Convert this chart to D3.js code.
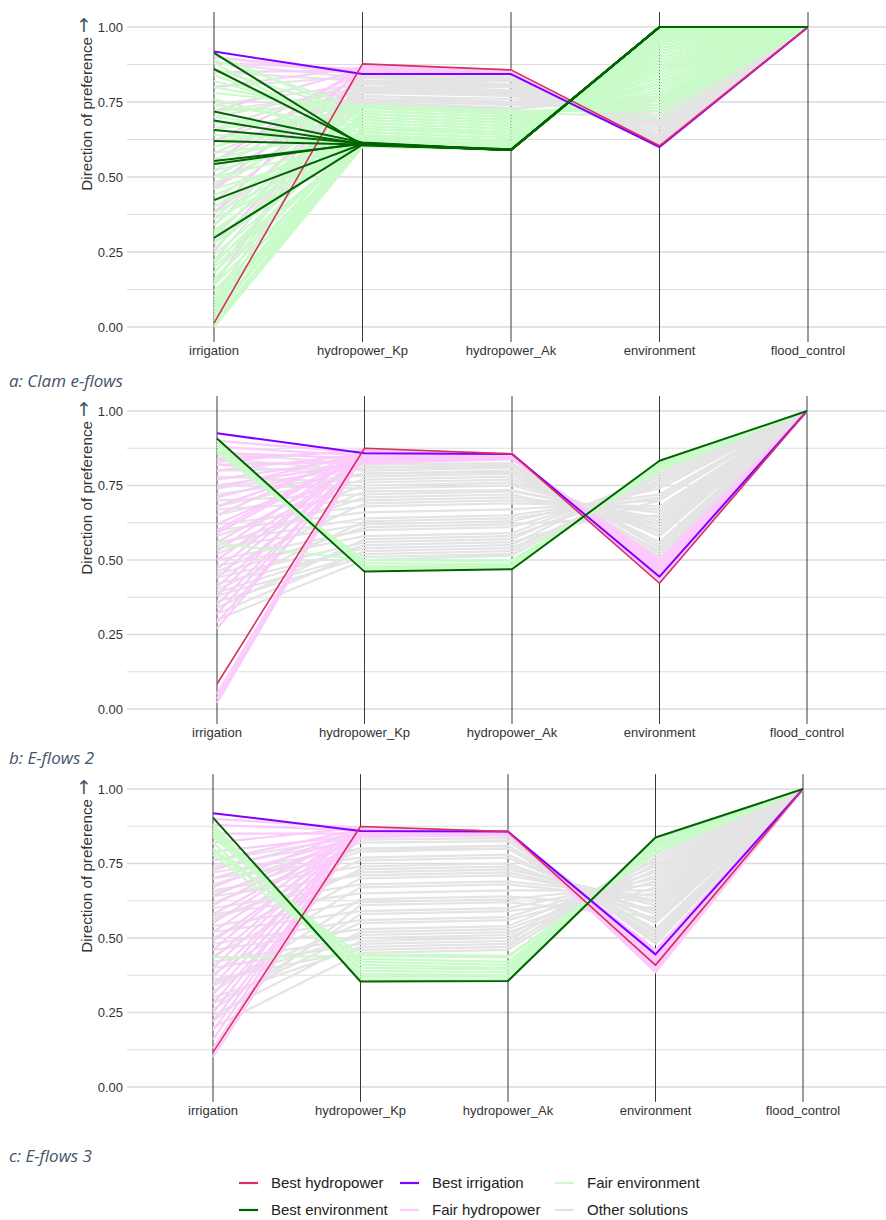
<!DOCTYPE html>
<html>
<head>
<meta charset="utf-8">
<script src="https://cdn.jsdelivr.net/npm/d3@7"></script>
<style>
  body { margin: 0; background: #fff; }
  svg { display: block; }
</style>
</head>
<body>
<div id="chart"></div>
<script>
// Parallel coordinates of the Pareto solutions, three e-flow scenarios.
// Each row: irrigation, hydropower_Kp, hydropower_Ak, environment, flood_control

var dims = ["irrigation", "hydropower_Kp", "hydropower_Ak", "environment", "flood_control"];
var yTicks = [0, 0.25, 0.5, 0.75, 1];
var yMinor = [0.125, 0.375, 0.625, 0.875];
var captions = ["a: Clam e-flows", "b: E-flows 2", "c: E-flows 3"];

// draw order: grey first, best lines last
var groupNames = ["Other solutions", "Fair hydropower", "Fair environment", "Best irrigation", "Best hydropower", "Best environment"];
var groupColors = ["#e4e4e4", "#fccafc", "#c9fbc9", "#7f00ff", "#d6305f", "#006400"];
var legendOrder = ["Best hydropower", "Best environment", "Best irrigation", "Fair hydropower", "Fair environment", "Other solutions"];

// ---- a: Clam e-flows
var clamOther = [
  [0.88,0.83,0.83,0.62,1],[0.85,0.82,0.82,0.63,1],[0.80,0.835,0.83,0.61,1],[0.74,0.81,0.80,0.64,1],
  [0.70,0.80,0.79,0.66,1],[0.66,0.82,0.81,0.62,1],[0.62,0.79,0.78,0.67,1],[0.58,0.78,0.77,0.68,1],
  [0.55,0.80,0.80,0.65,1],[0.50,0.77,0.76,0.70,1],[0.46,0.76,0.75,0.72,1],[0.42,0.78,0.78,0.69,1],
  [0.38,0.755,0.74,0.74,1],[0.34,0.81,0.80,0.66,1],[0.30,0.77,0.75,0.71,1],[0.26,0.75,0.73,0.76,1],
  [0.22,0.80,0.79,0.67,1],[0.18,0.76,0.74,0.73,1],[0.14,0.83,0.82,0.615,1],[0.10,0.79,0.77,0.70,1],
  [0.06,0.82,0.81,0.64,1],[0.90,0.84,0.835,0.605,1],[0.47,0.83,0.825,0.625,1],[0.28,0.745,0.725,0.77,1],
  [0.60,0.76,0.745,0.75,1],[0.72,0.785,0.775,0.685,1],[0.52,0.815,0.805,0.635,1],[0.36,0.795,0.785,0.675,1]
];
var clamFairHydro = [
  [0.90,0.85,0.845,0.605,1],[0.88,0.86,0.85,0.60,1],[0.85,0.855,0.848,0.603,1],[0.80,0.865,0.85,0.60,1],
  [0.72,0.86,0.852,0.602,1],[0.62,0.85,0.846,0.606,1],[0.55,0.87,0.854,0.60,1],[0.46,0.858,0.85,0.604,1],
  [0.38,0.868,0.853,0.60,1],[0.14,0.872,0.855,0.60,1],[0.25,0.85,0.847,0.606,1]
];
var clamFairEnv = [
  [0.02,0.61,0.60,0.98,1],[0.05,0.62,0.60,0.96,1],[0.08,0.63,0.61,0.94,1],[0.12,0.61,0.595,0.99,1],
  [0.16,0.64,0.62,0.92,1],[0.20,0.62,0.60,0.97,1],[0.24,0.66,0.64,0.89,1],[0.28,0.63,0.61,0.95,1],
  [0.32,0.68,0.66,0.86,1],[0.36,0.61,0.60,0.985,1],[0.40,0.70,0.68,0.82,1],[0.44,0.64,0.62,0.93,1],
  [0.48,0.72,0.70,0.78,1],[0.52,0.65,0.63,0.91,1],[0.56,0.67,0.65,0.87,1],[0.60,0.73,0.71,0.75,1],
  [0.64,0.62,0.60,0.965,1],[0.68,0.69,0.67,0.84,1],[0.72,0.74,0.72,0.72,1],[0.76,0.63,0.61,0.95,1],
  [0.80,0.71,0.69,0.80,1],[0.84,0.66,0.64,0.90,1],[0.88,0.62,0.60,0.97,1],[0.91,0.70,0.68,0.83,1],
  [0.00,0.60,0.59,0.995,1],[0.10,0.66,0.65,0.88,1],[0.34,0.74,0.715,0.70,1],[0.46,0.61,0.60,0.985,1],
  [0.03,0.65,0.63,0.90,1],[0.18,0.69,0.67,0.85,1],[0.26,0.71,0.69,0.79,1],[0.70,0.65,0.63,0.92,1],
  [0.01,0.605,0.595,0.99,1],[0.04,0.61,0.60,0.975,1],[0.07,0.615,0.60,0.97,1],[0.09,0.62,0.605,0.96,1],
  [0.14,0.625,0.61,0.955,1],[0.22,0.615,0.60,0.97,1],[0.30,0.62,0.605,0.965,1],[0.38,0.625,0.61,0.95,1],
  [0.42,0.635,0.615,0.94,1],[0.50,0.615,0.60,0.975,1],[0.54,0.625,0.61,0.955,1],[0.58,0.64,0.62,0.93,1],
  [0.62,0.68,0.66,0.86,1],[0.66,0.72,0.70,0.76,1],[0.74,0.67,0.65,0.88,1],[0.78,0.73,0.71,0.74,1],
  [0.82,0.69,0.67,0.85,1],[0.86,0.71,0.69,0.81,1],[0.89,0.73,0.71,0.76,1],[0.06,0.67,0.65,0.87,1],
  [0.15,0.72,0.70,0.77,1],[0.21,0.70,0.68,0.81,1],[0.31,0.735,0.72,0.73,1]
];
var clamBestIrr = [[0.918,0.843,0.843,0.600,1]];
var clamBestHydro = [[0.013,0.877,0.857,0.604,1]];
var clamBestEnv = [
  [0.914,0.605,0.592,1,1],[0.860,0.610,0.590,1,1],[0.718,0.615,0.590,1,1],[0.688,0.610,0.592,1,1],
  [0.657,0.612,0.590,1,1],[0.620,0.608,0.590,1,1],[0.553,0.610,0.590,1,1],[0.543,0.613,0.590,1,1],
  [0.423,0.610,0.590,1,1],[0.297,0.608,0.590,1,1]
];

// ---- b: E-flows 2
var flows2Other = [
  [0.86,0.82,0.825,0.52,1],[0.84,0.80,0.81,0.55,1],[0.82,0.78,0.79,0.58,1],[0.80,0.81,0.815,0.54,1],
  [0.78,0.76,0.77,0.60,1],[0.75,0.74,0.75,0.62,1],[0.72,0.79,0.80,0.56,1],[0.70,0.72,0.73,0.64,1],
  [0.67,0.70,0.71,0.66,1],[0.65,0.77,0.78,0.59,1],[0.62,0.68,0.69,0.68,1],[0.60,0.66,0.67,0.70,1],
  [0.58,0.75,0.76,0.61,1],[0.56,0.64,0.65,0.72,1],[0.54,0.62,0.63,0.74,1],[0.52,0.73,0.735,0.63,1],
  [0.50,0.60,0.61,0.76,1],[0.48,0.58,0.59,0.78,1],[0.46,0.69,0.70,0.67,1],[0.44,0.56,0.57,0.79,1],
  [0.42,0.54,0.55,0.80,1],[0.40,0.63,0.64,0.71,1],[0.38,0.52,0.53,0.78,1],[0.36,0.51,0.52,0.77,1],
  [0.34,0.57,0.58,0.75,1],[0.32,0.53,0.54,0.76,1],[0.30,0.50,0.515,0.79,1],[0.45,0.61,0.62,0.65,1],
  [0.55,0.71,0.72,0.60,1],[0.68,0.79,0.795,0.53,1],[0.74,0.81,0.82,0.51,1],[0.39,0.55,0.56,0.70,1]
];
var flows2FairHydro = [
  [0.90,0.86,0.855,0.44,1],[0.88,0.85,0.85,0.46,1],[0.86,0.84,0.845,0.48,1],[0.84,0.865,0.855,0.43,1],
  [0.82,0.83,0.84,0.50,1],[0.80,0.855,0.852,0.45,1],[0.77,0.845,0.85,0.47,1],[0.74,0.86,0.854,0.44,1],
  [0.71,0.835,0.842,0.49,1],[0.68,0.85,0.85,0.46,1],[0.65,0.87,0.856,0.425,1],[0.62,0.84,0.846,0.48,1],
  [0.59,0.855,0.853,0.45,1],[0.56,0.83,0.84,0.50,1],[0.53,0.865,0.855,0.435,1],[0.50,0.845,0.848,0.47,1],
  [0.47,0.85,0.851,0.455,1],[0.44,0.86,0.854,0.44,1],[0.41,0.835,0.843,0.49,1],[0.38,0.87,0.856,0.43,1],
  [0.35,0.84,0.845,0.48,1],[0.32,0.855,0.852,0.45,1],[0.29,0.845,0.848,0.465,1],[0.27,0.86,0.853,0.44,1],
  [0.05,0.87,0.856,0.43,1],[0.02,0.865,0.855,0.435,1],[0.035,0.86,0.854,0.44,1],[0.83,0.87,0.856,0.425,1],
  [0.75,0.825,0.838,0.50,1],[0.60,0.865,0.855,0.43,1]
];
var flows2FairEnv = [
  [0.90,0.47,0.475,0.825,1],[0.89,0.48,0.48,0.82,1],[0.88,0.49,0.485,0.815,1],[0.87,0.475,0.48,0.81,1],
  [0.555,0.50,0.50,0.80,1],[0.86,0.50,0.495,0.805,1]
];
var flows2BestIrr = [[0.925,0.858,0.856,0.444,1]];
var flows2BestHydro = [[0.084,0.875,0.856,0.422,1]];
var flows2BestEnv = [[0.908,0.461,0.469,0.833,1]];

// ---- c: E-flows 3
var flows3Other = [
  [0.74,0.83,0.835,0.49,1],[0.72,0.80,0.81,0.52,1],[0.70,0.77,0.78,0.55,1],[0.68,0.82,0.825,0.50,1],
  [0.66,0.74,0.75,0.58,1],[0.64,0.71,0.72,0.61,1],[0.62,0.79,0.80,0.53,1],[0.60,0.68,0.69,0.64,1],
  [0.58,0.65,0.66,0.66,1],[0.56,0.76,0.77,0.56,1],[0.54,0.62,0.63,0.68,1],[0.52,0.59,0.60,0.70,1],
  [0.50,0.73,0.74,0.59,1],[0.48,0.56,0.57,0.72,1],[0.46,0.53,0.54,0.74,1],[0.44,0.70,0.71,0.62,1],
  [0.42,0.50,0.51,0.76,1],[0.40,0.48,0.49,0.78,1],[0.38,0.67,0.68,0.63,1],[0.36,0.46,0.47,0.79,1],
  [0.34,0.55,0.56,0.69,1],[0.32,0.63,0.64,0.60,1],[0.30,0.47,0.48,0.75,1],[0.28,0.52,0.53,0.71,1],
  [0.26,0.58,0.59,0.65,1],[0.24,0.49,0.50,0.73,1],[0.22,0.61,0.62,0.57,1],[0.20,0.45,0.46,0.77,1],
  [0.76,0.84,0.845,0.48,1],[0.65,0.80,0.80,0.51,1],[0.57,0.72,0.73,0.62,1],[0.35,0.51,0.52,0.67,1]
];
var flows3FairHydro = [
  [0.88,0.86,0.855,0.44,1],[0.85,0.85,0.85,0.42,1],[0.82,0.87,0.856,0.40,1],[0.79,0.845,0.848,0.45,1],
  [0.76,0.865,0.855,0.41,1],[0.73,0.855,0.852,0.43,1],[0.70,0.84,0.846,0.46,1],[0.67,0.87,0.856,0.39,1],
  [0.64,0.85,0.85,0.43,1],[0.61,0.86,0.854,0.42,1],[0.58,0.845,0.849,0.44,1],[0.55,0.865,0.855,0.40,1],
  [0.52,0.855,0.852,0.425,1],[0.49,0.84,0.847,0.45,1],[0.46,0.87,0.856,0.395,1],[0.43,0.85,0.851,0.43,1],
  [0.40,0.86,0.853,0.415,1],[0.37,0.845,0.848,0.44,1],[0.34,0.865,0.855,0.405,1],[0.31,0.855,0.852,0.42,1],
  [0.28,0.84,0.846,0.455,1],[0.25,0.87,0.856,0.39,1],[0.22,0.85,0.85,0.43,1],[0.19,0.86,0.854,0.41,1],
  [0.16,0.865,0.855,0.40,1],[0.13,0.87,0.856,0.385,1],[0.10,0.86,0.855,0.40,1],[0.90,0.87,0.856,0.41,1]
];
var flows3FairEnv = [
  [0.88,0.37,0.37,0.83,1],[0.86,0.39,0.385,0.82,1],[0.84,0.41,0.40,0.81,1],[0.82,0.38,0.375,0.825,1],
  [0.80,0.43,0.42,0.80,1],[0.78,0.40,0.395,0.815,1],[0.435,0.44,0.435,0.79,1],[0.85,0.42,0.41,0.805,1],
  [0.79,0.445,0.44,0.785,1],[0.87,0.36,0.36,0.835,1]
];
var flows3BestIrr = [[0.919,0.859,0.857,0.445,1]];
var flows3BestHydro = [[0.116,0.874,0.857,0.409,1]];
var flows3BestEnv = [[0.904,0.354,0.356,0.837,1]];

// group arrays per panel, same order as groupNames
var panelsData = [
  [clamOther, clamFairHydro, clamFairEnv, clamBestIrr, clamBestHydro, clamBestEnv],
  [flows2Other, flows2FairHydro, flows2FairEnv, flows2BestIrr, flows2BestHydro, flows2BestEnv],
  [flows3Other, flows3FairHydro, flows3FairEnv, flows3BestIrr, flows3BestHydro, flows3BestEnv]
];

// panel placement (pixels)
var layout = [
  {top: 27,  bottom: 327,  left: 214, right: 808, capY: 387},
  {top: 411, bottom: 709,  left: 217, right: 807, capY: 764},
  {top: 789, bottom: 1087, left: 213, right: 803, capY: 1162}
];

var W = 886, H = 1220;
var color = d3.scaleOrdinal().domain(groupNames).range(groupColors);
var textCol = "#333";
var sans = "'Liberation Sans', Arial, sans-serif";

var svg = d3.select("#chart").append("svg")
  .attr("width", W)
  .attr("height", H);

layout.forEach(function(p, pi) {
  var x = d3.scalePoint().domain(dims).range([p.left, p.right]);
  var y = d3.scaleLinear().domain([0, 1]).range([p.bottom, p.top]);
  var g = svg.append("g");

  // grid
  g.selectAll("line.minor").data(yMinor).enter().append("line")
    .attr("x1", 127).attr("x2", W)
    .attr("y1", function(d){ return y(d); }).attr("y2", function(d){ return y(d); })
    .attr("stroke", "#dedede").attr("stroke-width", 1);
  g.selectAll("line.major").data(yTicks).enter().append("line")
    .attr("x1", 127).attr("x2", W)
    .attr("y1", function(d){ return y(d); }).attr("y2", function(d){ return y(d); })
    .attr("stroke", "#dadada").attr("stroke-width", 1.3);

  // vertical axes (under the data lines)
  g.selectAll("line.ax").data(dims).enter().append("line")
    .attr("x1", function(d){ return x(d); }).attr("x2", function(d){ return x(d); })
    .attr("y1", y(1.05)).attr("y2", y(-0.05))
    .attr("stroke", "#3a3a3a").attr("stroke-width", 1);

  // data lines
  var line = d3.line()
    .x(function(d, i){ return x(dims[i]); })
    .y(function(d){ return y(d); });

  panelsData[pi].forEach(function(rows, gi) {
    var name = groupNames[gi];
    var w = name == "Best hydropower" ? 1.6 : (gi >= 3 ? 2 : 2.2);
    g.append("g").selectAll("path").data(rows).enter().append("path")
      .attr("d", line)
      .attr("fill", "none")
      .attr("stroke", color(name))
      .attr("stroke-width", w)
      .attr("stroke-linejoin", "round");
  });

  // tick labels
  g.selectAll("text.tick").data(yTicks).enter().append("text")
    .attr("x", 123).attr("y", function(d){ return y(d); })
    .attr("dy", "0.35em")
    .attr("text-anchor", "end")
    .attr("fill", textCol)
    .style("font-family", sans).style("font-size", "13px")
    .text(function(d){ return d3.format(".2f")(d); });

  // axis names
  g.selectAll("text.dim").data(dims).enter().append("text")
    .attr("x", function(d){ return x(d); })
    .attr("y", p.bottom + 28)
    .attr("text-anchor", "middle")
    .attr("fill", textCol)
    .style("font-family", sans).style("font-size", "13px")
    .text(function(d){ return d; });

  // y title, with the upright arrow above it
  g.append("text")
    .attr("transform", "translate(92," + (p.top + 10) + ") rotate(-90)")
    .attr("text-anchor", "end")
    .attr("fill", textCol)
    .style("font-family", sans).style("font-size", "15.2px")
    .text("Direction of preference");
  g.append("text")
    .attr("x", 84).attr("y", p.top + 5)
    .attr("text-anchor", "middle")
    .attr("fill", "#44546a")
    .style("font-family", "'DejaVu Sans', sans-serif").style("font-size", "19px")
    .text("\u2191");

  // caption
  g.append("text")
    .attr("x", 9).attr("y", p.capY)
    .attr("fill", "#44546a")
    .style("font-family", "'Open Sans', sans-serif").style("font-style", "italic").style("font-size", "17px")
    .text(captions[pi]);
});

// legend, 3 columns x 2 rows
var legCols = [239, 400, 555];
var legRows = [1183, 1210];
var leg = svg.append("g").selectAll("g").data(legendOrder).enter().append("g")
  .attr("transform", function(d, i){
    return "translate(" + legCols[Math.floor(i / 2)] + "," + legRows[i % 2] + ")";
  });
leg.append("line")
  .attr("x1", 0).attr("x2", 19)
  .attr("stroke", function(d){ return color(d); })
  .attr("stroke-width", 2.2);
leg.append("text")
  .attr("x", 32).attr("dy", "0.35em")
  .attr("fill", "#222")
  .style("font-family", sans).style("font-size", "15px")
  .text(function(d){ return d; });
</script>
</body>
</html>
